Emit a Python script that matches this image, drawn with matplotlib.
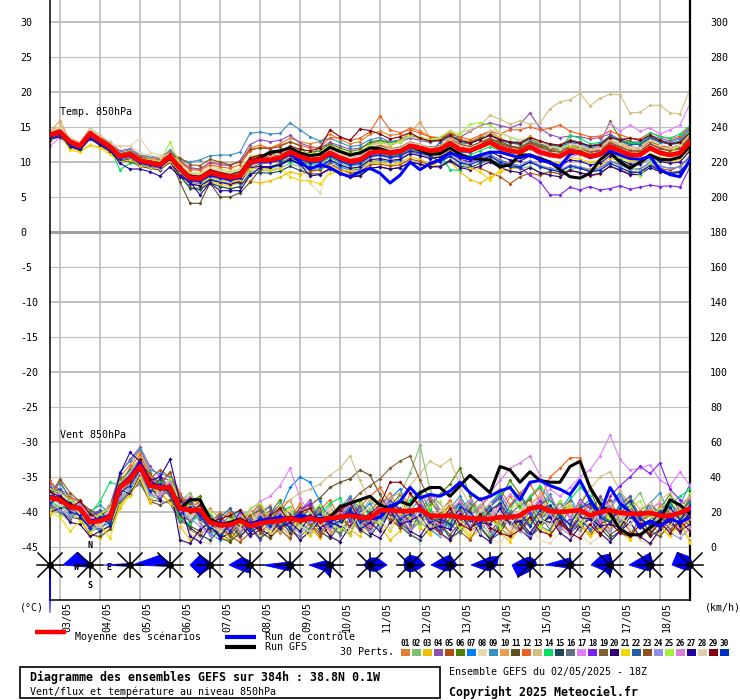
import numpy as np
import matplotlib
matplotlib.use("Agg")
import matplotlib.pyplot as plt
from matplotlib.patches import Polygon, Rectangle
from matplotlib.transforms import ScaledTranslation

plt.rcParams['font.family'] = ['DejaVu Sans Mono', 'DejaVu Sans']

# 65 steps of 6h from 02/05 18Z
steps = np.arange(65)
day_steps = [1, 5, 9, 13, 17, 21, 25, 29, 33, 37, 41, 45, 49, 53, 57, 61]
day_labels = ['03/05', '04/05', '05/05', '06/05', '07/05', '08/05', '09/05', '10/05',
              '11/05', '12/05', '13/05', '14/05', '15/05', '16/05', '17/05', '18/05']

#Temperature 850hPa (degC)
temp_mean = [13.9,14.3,12.9,12.3,14.1,13.1,12.2,10.8,11.1,10.2,9.9,9.6,10.8,
             9.1,7.7,7.6,8.5,8.1,7.8,8.0,10.0,10.3,10.3,10.6,11.4,10.8,
             10.3,10.4,11.3,10.6,10.1,10.3,11.3,11.5,11.3,11.5,12.3,12.0,11.6,
             11.8,12.7,11.8,11.6,12.2,12.8,12.0,11.6,11.4,12.2,11.4,11.0,10.8,
             11.6,11.3,10.8,11.1,12.2,11.6,11.0,11.0,12.0,11.3,11.0,11.3,12.9]
temp_ctrl = [13.9,14.4,13.0,12.3,14.2,13.1,12.1,10.7,11.0,10.0,9.7,9.4,10.6,
             9.0,7.5,7.4,8.3,7.9,7.5,7.8,10.0,10.2,10.1,10.6,11.2,10.0,
             9.0,9.6,9.2,8.4,7.9,8.6,9.1,8.4,7.0,8.1,10.0,8.9,9.8,
             10.3,11.3,10.8,10.5,11.0,11.4,11.4,11.0,10.6,11.0,10.3,9.9,9.4,
             11.1,11.5,10.6,11.0,11.6,11.0,10.5,10.4,10.8,8.9,8.2,7.9,10.3]
temp_gfs = [13.8,14.3,12.9,12.4,14.1,13.2,12.3,10.8,11.1,10.2,9.9,9.6,10.8,
            9.1,7.6,7.5,8.4,8.0,7.6,7.9,10.1,10.6,11.4,11.6,12.0,11.3,
            10.9,11.1,12.1,11.5,11.0,11.3,12.0,11.9,11.4,11.6,12.3,11.7,11.1,
            11.2,12.0,11.1,10.6,10.4,10.3,9.3,9.6,11.0,11.0,10.5,10.0,8.9,
            7.9,7.7,8.4,10.3,11.4,10.0,9.1,10.0,11.0,10.4,10.3,10.7,12.3]
temp_perts = [
    [14.2,14.8,13.2,12.5,14.5,13.4,12.6,11.2,11.5,10.6,10.4,10.1,11.3, 10.3,9.0,9.0,10.0,9.8,9.6,10.0,12.0,12.4,12.0,12.6,13.4,12.9,
     12.6,12.9,14.0,13.2,12.6,12.9,14.0,14.4,13.8,14.0,14.9,14.4,13.6, 13.5,14.4,13.3,12.9,13.6,14.4,13.4,12.8,12.6,13.7,12.9,12.4,12.5,
     13.2,12.8,12.2,12.5,13.8,13.0,12.2,12.0,13.2,12.4,12.0,12.5,14.2],
    [13.6,14.0,12.6,12.0,13.8,12.8,11.8,10.3,10.5,9.6,9.4,9.1,10.2, 8.0,6.2,6.0,7.0,6.5,6.1,6.5,8.6,8.9,8.7,9.1,9.8,9.3,
     8.8,9.0,10.0,9.5,9.0,9.3,10.6,11.0,10.7,11.0,12.0,11.5,11.2, 11.5,12.3,11.0,10.5,10.8,10.9,9.9,9.3,9.0,9.4,8.4,8.6,8.3,
     9.0,9.1,8.9,9.2,10.1,9.8,9.4,9.6,10.4,10.0,10.2,10.8,12.3],
    [13.2,13.7,12.0,11.6,12.4,12.1,11.5,10.2,10.4,9.6,9.3,9.0,10.0, 8.0,6.4,6.3,7.2,6.8,6.6,7.0,7.3,7.0,7.3,7.8,8.6,8.2,
     8.6,8.9,9.6,8.9,8.5,8.8,9.7,10.0,9.6,9.9,10.7,10.4,9.7, 9.4,10.1,8.6,7.5,7.0,7.8,8.6,8.9,9.4,10.2,9.3,8.9,8.6,
     9.5,9.3,9.0,9.4,10.6,10.1,9.5,9.8,10.8,10.2,9.9,10.4,11.8],
    [14.0,14.6,13.3,12.7,14.3,13.6,12.8,11.6,11.9,11.0,10.7,10.5,11.6, 10.1,9.2,9.0,9.9,9.6,9.5,10.2,12.5,13.2,12.9,13.1,13.8,12.7,
     12.2,12.0,12.8,12.3,11.8,12.0,12.6,13.0,12.7,12.9,13.4,13.1,12.8, 13.2,14.0,13.5,14.4,15.2,15.6,15.2,14.9,15.4,17.0,14.8,13.9,13.5,
     13.7,13.6,13.3,13.5,14.0,13.2,12.8,12.9,13.8,13.4,13.0,13.5,15.0],
    [13.8,14.1,12.7,12.1,13.9,12.9,12.0,10.6,10.8,9.9,9.6,9.3,10.5, 8.8,7.3,7.2,8.0,7.7,7.3,7.6,9.6,9.9,10.0,10.2,11.0,10.3,
     8.7,8.9,9.8,9.0,8.4,8.6,9.6,9.7,9.4,9.6,10.4,10.1,9.5, 10.1,10.8,9.9,9.4,9.1,8.5,7.9,6.9,7.9,8.4,8.1,8.6,8.3,
     8.8,8.5,8.0,8.3,9.4,8.9,8.3,8.6,9.6,9.1,8.8,9.4,10.9],
    [14.1,14.4,13.0,12.4,14.2,13.3,12.4,11.0,11.3,10.4,10.1,9.8,11.0, 9.4,8.0,7.9,8.8,8.4,8.1,8.5,10.4,10.7,10.6,10.9,11.7,11.1,
     11.4,11.6,12.6,12.0,11.5,11.8,12.9,13.1,12.8,13.0,13.9,13.4,13.0, 13.2,14.2,13.1,12.8,13.4,14.0,13.2,12.7,12.5,13.3,12.6,12.2,12.0,
     12.2,12.1,11.7,12.6,15.8,13.4,13.0,12.4,13.4,12.8,12.6,13.0,14.6],
    [13.7,14.2,12.8,12.2,14.0,13.0,12.1,10.7,11.0,10.1,9.8,9.5,10.6, 8.4,6.8,6.6,7.6,7.2,6.9,7.3,9.0,9.2,9.1,9.5,10.3,9.6,
     9.1,9.2,10.1,9.3,8.8,9.0,10.1,10.3,10.0,10.3,11.2,11.0,10.6, 11.0,12.0,11.4,11.3,12.2,13.0,12.5,12.2,12.1,13.0,12.4,12.1,11.9,
     12.8,12.6,12.0,12.4,13.6,13.1,12.5,12.5,13.6,12.9,12.6,12.9,14.5],
    [14.5,15.0,13.5,12.8,14.8,13.6,12.4,12.3,12.3,13.4,11.4,11.0,11.3, 9.9,8.6,8.4,9.4,9.0,8.8,9.1,10.8,10.8,11.1,11.3,11.8,9.6,
     7.0,5.6,9.5,10.0,9.8,10.2,11.1,11.6,11.3,11.6,12.5,12.1,11.7, 12.0,12.9,12.0,11.8,12.5,13.5,12.7,12.2,11.9,12.8,12.1,11.6,11.3,
     12.1,11.8,11.3,11.5,12.4,11.9,11.4,11.3,12.3,11.8,11.5,11.8,13.3],
    [14.0,14.5,13.1,12.6,14.6,13.5,12.7,11.4,11.7,10.9,10.8,10.5,11.7, 10.4,10.0,10.3,10.9,11.0,11.0,11.4,14.1,14.3,14.0,14.1,15.6,14.6,
     13.6,13.0,13.4,12.8,12.2,12.4,13.2,13.5,12.9,13.2,13.8,13.3,12.9, 13.0,13.6,12.7,12.6,13.2,13.8,13.1,12.8,12.9,13.5,12.8,12.4,12.2,
     12.8,12.6,12.3,12.6,13.5,13.0,12.6,12.7,13.6,13.1,12.8,13.3,14.8],
    [14.3,15.9,13.1,12.6,14.4,13.4,12.5,11.1,11.4,10.5,10.2,9.9,11.1, 9.5,8.1,7.8,8.8,8.4,8.1,8.5,10.5,10.8,10.8,11.1,11.8,11.2,
     10.8,10.9,11.9,11.2,10.7,10.9,12.0,12.4,12.2,13.1,14.2,15.7,13.5, 12.8,13.4,12.6,12.3,12.8,13.4,12.7,12.3,12.1,12.9,12.3,11.9,11.7,
     12.3,12.1,11.6,11.9,13.0,12.4,11.9,11.8,12.9,12.2,11.9,12.2,13.8],
    [13.6,14.0,12.6,11.9,13.6,12.6,11.6,10.2,10.4,9.6,9.3,9.2,10.3, 7.1,4.1,4.1,7.0,5.0,5.0,5.6,7.1,8.9,9.3,9.8,10.6,10.0,
     9.7,9.9,10.8,10.2,9.8,10.0,11.0,11.3,11.0,11.3,12.3,12.0,11.6, 11.8,12.8,12.0,11.7,12.4,13.2,13.0,12.3,12.0,12.8,12.2,11.8,11.4,
     12.2,11.9,11.4,11.6,12.6,12.1,11.6,11.5,12.6,11.9,11.6,12.0,13.5],
    [14.2,14.7,13.3,12.7,14.4,13.5,12.6,11.3,11.6,10.8,10.5,10.3,11.5, 10.0,8.9,8.8,9.6,9.3,9.1,9.6,11.6,12.1,12.0,12.4,12.9,12.4,
     12.0,12.1,13.5,13.4,13.1,13.4,14.3,16.6,14.6,14.2,14.6,14.1,13.6, 13.4,14.2,13.6,13.2,13.8,14.4,14.0,14.6,14.6,15.0,14.6,14.8,15.3,
     14.4,14.0,13.6,13.7,14.4,13.9,13.4,13.3,14.2,13.7,13.3,13.7,15.1],
    [14.4,15.1,13.4,12.8,14.9,13.8,12.8,11.3,11.6,10.6,10.4,10.0,11.2, 9.6,8.2,8.1,9.0,8.6,8.3,8.7,10.6,10.9,10.9,11.3,12.0,11.4,
     11.0,11.2,12.1,11.5,11.1,11.4,12.3,12.7,12.5,12.8,13.7,13.3,13.0, 13.3,13.0,14.2,14.6,15.2,16.7,16.1,15.4,15.9,15.4,15.6,17.6,18.6,
     18.9,19.8,18.0,19.1,19.7,19.6,17.0,17.1,18.1,18.1,17.0,16.9,20.4],
    [13.5,14.1,12.5,12.0,13.7,12.7,11.9,8.9,9.8,9.7,9.5,9.3,10.4, 8.9,7.8,7.9,8.6,8.3,8.0,8.4,10.1,10.5,10.4,10.3,10.0,10.4,
     9.6,9.8,10.6,9.9,9.4,9.6,10.8,11.0,10.7,11.0,11.8,11.6,11.2, 11.3,8.9,8.8,11.0,11.6,12.2,11.6,11.2,11.1,11.9,11.6,11.4,11.6,
     13.8,13.4,12.6,12.8,13.6,13.0,12.7,12.8,14.2,13.6,13.4,14.0,15.2],
    [13.3,13.7,12.3,11.8,13.5,12.5,11.6,10.1,10.3,9.5,9.2,8.9,10.1, 8.0,6.3,6.1,7.0,6.5,6.2,6.5,8.3,8.5,8.4,8.7,9.4,8.8,
     8.3,8.3,9.1,8.4,7.9,8.1,9.1,9.3,9.0,9.2,10.0,9.7,9.3, 9.4,10.3,9.4,9.2,9.8,10.4,9.7,9.3,9.2,10.0,9.4,9.0,8.8,
     9.5,9.3,8.8,9.1,10.1,9.6,9.0,9.0,9.9,9.4,9.1,9.3,10.7],
    [13.5,13.9,12.4,11.8,13.4,12.4,11.7,10.4,10.6,9.8,9.5,9.2,10.2, 8.6,7.1,6.9,7.9,7.5,7.2,6.9,9.2,9.7,9.9,10.1,10.9,10.3,
     9.8,10.1,11.0,10.2,9.8,10.0,11.0,11.2,10.9,11.1,11.8,11.4,11.0, 10.6,11.3,10.4,10.0,10.6,11.1,10.3,9.8,9.5,10.2,9.5,9.1,8.8,
     9.5,9.2,8.6,8.9,9.8,9.2,8.6,8.5,9.5,8.8,8.5,8.7,10.2],
    [12.3,13.5,12.3,11.9,13.6,12.8,11.9,10.6,10.9,10.0,9.7,9.4,10.6, 9.0,7.7,7.4,8.3,7.9,7.7,8.1,10.1,10.4,10.4,10.8,11.6,11.0,
     10.6,10.7,11.6,10.9,10.5,10.8,11.8,12.0,11.7,11.9,12.8,12.4,12.0, 12.2,13.0,12.2,11.9,12.5,13.0,12.4,11.8,11.4,12.0,10.8,9.8,8.9,
     10.6,11.2,11.6,12.6,15.6,14.4,15.3,14.4,14.9,14.0,14.6,15.3,18.3],
    [13.6,14.1,12.7,12.1,13.9,12.9,12.0,10.5,10.8,9.9,9.6,9.3,10.5, 8.8,7.4,7.3,8.1,7.8,7.4,7.8,9.8,10.0,10.0,10.3,11.1,10.5,
     10.0,10.1,11.0,10.2,9.7,9.9,10.8,11.0,10.6,10.8,11.5,11.1,10.6, 10.7,11.4,10.4,10.0,10.4,10.8,10.1,9.6,9.3,8.1,7.2,5.3,5.3,
     6.4,6.0,6.5,6.0,6.2,6.6,6.1,6.4,6.7,6.5,6.6,6.4,9.3],
    [14.1,14.6,13.0,12.5,14.2,13.4,12.5,11.2,11.5,10.7,10.3,10.0,11.2, 9.4,8.2,8.1,8.9,8.5,8.3,8.7,10.6,10.9,10.8,11.1,11.9,11.2,
     10.7,12.2,12.4,11.6,11.0,11.3,12.1,12.3,11.9,12.1,12.9,12.5,12.1, 12.3,13.2,12.5,12.2,12.8,13.4,12.7,12.2,12.0,12.9,12.4,12.0,11.8,
     12.5,12.3,11.8,12.1,13.2,12.6,12.1,12.0,13.0,12.4,12.1,12.4,14.0],
    [13.2,13.6,12.2,11.7,13.3,12.4,11.5,10.0,10.2,9.4,9.1,8.9,10.0, 8.4,6.9,6.6,7.4,7.1,6.8,7.2,9.1,9.4,9.3,9.6,10.4,9.7,
     8.0,8.2,9.0,8.3,7.8,8.0,9.1,9.3,9.0,9.2,10.0,9.7,9.3, 9.3,10.1,9.2,8.9,9.4,10.0,9.2,8.7,8.5,9.2,8.5,8.1,7.9,
     8.8,8.5,8.1,8.4,9.4,8.8,8.2,8.2,9.2,8.6,8.3,8.6,10.2],
    [13.3,13.9,11.7,11.4,12.4,12.0,11.1,10.0,10.3,9.5,9.2,9.0,10.1, 8.6,7.3,7.0,7.8,7.5,7.1,7.4,9.0,9.2,8.9,9.2,7.9,7.4,
     7.3,6.9,8.4,8.6,8.9,9.2,10.1,10.4,10.2,10.4,11.3,11.0,10.7, 10.9,11.7,10.5,9.2,8.6,7.4,8.9,9.8,10.3,11.0,10.5,10.1,9.8,
     10.6,10.4,10.0,10.3,11.3,10.7,10.2,10.1,11.2,10.6,10.3,10.6,12.2],
    [13.8,14.2,12.8,12.3,14.0,13.0,12.2,10.9,11.2,10.3,10.0,9.7,10.8, 9.1,7.7,7.6,8.5,8.1,7.9,8.2,10.2,10.5,10.5,10.7,11.5,10.9,
     10.3,10.3,11.2,10.4,10.0,10.2,11.1,11.3,11.0,11.2,12.0,11.7,11.3, 12.8,13.8,13.0,12.7,13.3,13.9,13.1,12.7,12.6,13.4,12.8,12.4,12.3,
     13.1,12.8,12.3,12.6,13.7,13.1,12.5,12.5,13.5,12.9,12.5,12.7,14.3],
    [14.0,14.5,13.2,12.6,14.4,13.3,12.3,11.0,11.3,10.4,10.1,9.8,11.0, 10.6,9.6,9.5,10.4,10.0,9.6,10.0,11.8,12.0,11.9,12.2,12.9,12.3,
     10.6,10.7,11.6,10.9,10.4,10.7,11.6,11.9,11.6,11.8,12.6,12.3,11.9, 12.1,13.0,12.2,11.9,12.6,13.2,12.5,12.1,11.9,12.7,12.0,11.6,11.4,
     12.1,11.8,11.4,11.7,12.8,12.2,11.6,11.6,12.6,12.0,11.6,11.9,13.5],
    [13.5,13.8,12.5,11.9,13.6,12.7,11.8,10.4,10.7,9.8,9.5,9.2,10.4, 8.7,7.2,7.1,8.0,7.6,7.3,7.7,9.7,10.0,9.9,10.2,11.0,10.3,
     9.8,9.9,10.8,10.0,9.5,9.7,10.7,10.9,10.5,10.8,11.6,11.2,10.8, 10.2,11.0,10.1,9.8,10.4,11.0,10.1,9.6,9.4,10.2,9.4,9.0,8.8,
     9.6,9.3,8.9,9.1,10.2,9.5,9.0,8.9,10.0,9.4,9.1,9.3,10.9],
    [14.1,14.6,13.1,12.5,14.2,13.3,12.4,11.0,11.3,10.5,10.3,10.1,12.8, 9.7,8.4,8.3,9.1,8.8,8.6,8.9,10.8,11.1,11.1,11.4,12.2,11.6,
     11.2,11.3,12.3,11.7,11.2,11.5,12.5,12.8,12.6,12.9,13.9,13.6,13.2, 13.5,14.4,14.0,15.4,15.6,15.3,14.2,13.5,13.0,13.6,12.8,12.3,12.0,
     12.3,11.8,11.2,11.0,11.6,10.6,9.8,8.0,9.8,10.3,11.2,12.6,14.5],
    [13.9,14.4,12.9,12.4,14.2,13.2,12.3,10.9,11.2,10.3,10.0,9.7,10.9, 9.2,7.8,7.7,8.6,8.2,7.9,8.3,10.2,10.6,10.6,10.9,11.7,11.1,
     10.6,10.7,11.6,10.9,10.4,10.6,11.6,11.8,11.5,11.7,12.4,12.1,11.7, 11.9,12.8,12.0,11.7,12.3,13.0,12.3,11.8,11.6,12.5,11.8,11.3,11.1,
     11.9,11.6,11.1,11.4,12.5,11.9,11.3,11.2,12.3,11.6,11.2,11.5,13.1],
    [13.4,13.8,12.4,11.8,13.5,12.6,11.8,9.8,9.0,9.0,8.6,8.0,9.3, 7.9,7.2,5.3,7.0,5.9,5.9,5.9,8.1,9.2,9.3,9.6,10.3,9.7,
     9.3,9.4,10.3,9.6,9.1,9.3,10.3,10.5,10.2,10.4,11.2,10.9,10.5, 10.7,11.5,10.6,10.3,10.9,11.5,10.8,10.3,10.1,10.9,10.2,9.8,9.5,
     10.3,10.1,9.6,9.8,10.9,10.3,9.7,9.7,10.8,10.1,9.8,10.0,11.6],
    [14.3,14.9,13.3,12.7,14.7,13.5,12.5,12.3,12.3,11.3,11.0,10.7,11.2, 9.6,8.3,8.2,9.1,8.7,8.4,8.8,10.7,11.0,10.9,11.2,11.9,11.3,
     10.8,10.9,11.8,11.1,10.6,10.8,11.8,12.1,11.8,12.0,12.8,12.5,12.0, 12.2,13.1,12.3,12.0,12.6,14.6,14.3,13.6,13.2,13.4,12.8,12.2,11.9,
     12.6,12.3,11.8,12.0,13.2,12.6,12.1,12.0,13.1,12.5,12.1,12.4,14.0],
    [14.0,14.4,13.0,12.4,14.2,13.2,12.3,11.0,11.3,10.4,10.1,9.9,11.1, 9.4,8.1,8.0,8.9,8.5,8.2,8.6,10.6,11.0,11.1,11.5,12.3,11.8,
     11.6,12.0,14.6,13.6,13.1,14.7,14.5,14.0,13.3,13.6,14.2,13.4,13.0, 13.1,13.8,13.0,12.7,13.2,13.8,13.2,12.9,12.7,13.5,13.0,12.6,12.4,
     13.0,12.7,12.3,12.4,13.5,13.2,13.4,13.1,13.8,13.1,12.6,12.8,14.2],
    [13.6,14.0,12.6,12.0,13.8,12.8,11.9,10.5,10.8,9.9,9.6,9.3,10.4, 8.8,7.3,7.2,8.0,7.7,7.4,7.7,9.7,10.0,10.0,10.2,11.0,10.3,
     9.9,10.0,10.9,10.1,9.6,9.8,10.8,11.0,10.7,10.9,11.6,11.3,10.9, 10.0,10.8,9.9,9.6,10.2,10.8,10.0,9.5,9.3,10.0,9.3,8.9,8.6,
     9.4,9.1,8.6,8.8,9.8,9.2,8.6,8.5,9.5,8.8,8.4,8.5,10.2],
]

#Wind 850hPa (km/h)
wind_mean = [28,27,23,22,14,15,17,34,39,46,35,34,34,
             22,21,21,14,12.6,12.6,15,12,13.5,14.5,15,16.5,15,
             16.5,15,16.5,17,18,17,16.5,21,21,20.5,20.5,21.5,18,
             17.7,18,17,16.5,16,16,17,17,18,22,23,20.5,20,
             20.5,21,18,20,21,19.5,19,19,19.5,18,17.7,19.5,22]
wind_ctrl = [29,27,23,22,15,16,18,35,40,48,36,35,34,
             22,21,20,14,12,13,15,13,15,16,17,16,18,
             17,16,15,17,19,18,16,17,23,26,34,28,30,
             29,32,37,31,27,29,32,34,27,37,38,35,33,
             30,38,27,19,34,25,20,11,15,12,16,14,17]
wind_gfs = [28,28,24,22,15,15,17,34,40,47,36,34,34,
            22,27,27,16,13,14,16,13,15,16,16,17,16,
            17,16,17,23,25,27,29,24,22,26,24,31,34,
            34,29,35,41,36,31,46,44,37,43,38,37,37,
            46,49,34,25,19,10,7,7,11,15,27,24,19]
wind_perts = [
    [34,30,24,18,10,14,22,40,47,55,42,30,26, 18,10,6,13,20,9,5,14,22,12,8,16,25, 19,11,7,14,27,18,10,23,31,20,12,25,16,
     8,15,27,19,11,6,17,29,22,13,30,21,9, 14,26,18,10,21,32,24,13,7,18,27,15,22],
    [22,19,15,26,16,8,13,27,33,41,28,36,30, 26,31,22,9,14,21,11,17,26,15,9,18,12, 7,16,24,13,8,19,27,21,14,30,42,58,33,
     21,12,18,26,15,7,13,22,30,19,11,17,25, 16,9,20,28,17,11,24,31,18,10,16,24,13],
    [18,27,20,16,8,5,11,22,30,38,25,28,33, 12,4,9,15,6,3,10,16,8,5,14,9,19, 11,5,13,21,10,6,17,12,4,9,18,11,7,
     15,24,12,5,10,19,8,3,11,20,13,6,15, 24,14,7,12,20,9,4,13,22,11,6,14,3],
    [36,33,29,25,21,19,24,42,50,57,46,40,38, 30,24,14,7,12,18,6,11,4,16,22,13,20, 27,15,9,18,28,22,13,17,26,14,8,20,29,
     21,10,16,25,19,9,15,23,31,20,12,18,26, 17,8,19,29,21,12,7,16,25,18,10,15,23],
    [26,38,27,20,12,16,18,33,37,44,39,44,40, 28,22,26,19,10,6,3,8,15,21,11,14,23, 13,6,12,24,16,9,20,27,18,11,23,30,17,
     10,20,9,4,14,24,16,8,19,28,34,21,12, 22,13,6,15,26,17,9,5,12,21,14,8,18],
    [32,29,21,27,18,20,16,38,44,50,33,31,35, 17,26,29,13,8,4,12,21,13,19,27,14,22, 16,24,12,8,17,26,19,11,23,30,20,13,24,
     30,36,45,29,18,13,27,38,30,21,15,28,20, 12,24,33,19,10,18,27,16,9,22,30,20,28],
    [30,24,18,23,9,11,14,29,41,48,30,27,37, 24,14,20,8,4,15,19,9,17,11,21,34,40, 37,26,15,11,7,19,25,16,28,33,22,14,10,
     6,16,25,18,11,5,14,23,30,19,12,9,21, 29,17,10,16,24,31,20,12,7,15,26,18,27],
    [21,26,27,25,14,18,25,28,35,40,28,37,29, 13,8,3,2,9,14,20,12,6,15,10,4,13, 20,10,5,11,22,14,7,18,24,15,8,4,12,
     7,3,9,19,13,5,2,10,18,11,4,2,8, 15,8,2,6,13,19,10,4,1,8,16,9,5],
    [33,36,29,21,20,24,19,43,49,56,44,42,40, 29,20,24,19,12,9,21,16,23,14,25,19,13, 24,17,11,22,29,18,13,25,28,17,21,27,15,
     11,22,29,20,14,25,31,21,15,12,24,30,19, 13,26,19,11,23,29,20,14,25,31,18,24,36],
    [35,27,30,20,13,21,17,40,36,52,41,33,39, 27,29,18,22,16,8,19,13,20,24,12,7,17, 23,15,9,20,26,13,8,19,28,31,24,16,11,
     20,27,17,10,18,25,14,8,16,24,29,18,12, 9,19,25,14,10,21,28,22,13,8,17,24,29],
    [24,21,17,16,7,6,10,25,31,38,26,24,27, 15,12,9,16,5,3,8,14,9,5,11,17,21, 24,28,34,37,39,44,41,30,20,14,9,15,22,
     13,7,14,21,11,5,10,18,13,7,15,22,16, 9,14,21,13,7,11,19,15,9,6,13,20,11],
    [38,31,28,27,17,12,21,36,45,53,40,37,42, 31,18,23,10,15,20,8,19,24,13,21,27,14, 10,21,27,16,12,23,29,34,25,18,30,22,15,
     20,26,14,10,23,29,33,24,31,36,26,40,45, 51,51,35,24,17,10,22,16,12,24,19,11,16],
    [25,23,19,24,15,13,20,31,35,42,37,29,32, 20,24,15,11,18,7,16,20,11,15,24,27,31, 33,36,41,45,52,38,26,21,15,27,35,42,49,
     46,50,35,23,17,14,26,19,12,24,30,22,16, 13,26,33,40,43,32,22,15,19,27,31,22,12],
    [27,22,24,17,19,26,37,35,38,45,31,38,31, 16,13,19,10,6,15,21,10,18,9,20,23,14, 9,19,25,28,16,11,22,14,24,16,27,32,21,
     15,12,22,27,16,24,30,35,22,29,35,27,18, 27,34,29,19,14,25,18,12,23,15,24,29,33],
    [31,25,20,24,11,17,15,32,42,47,33,39,32, 19,11,7,4,10,13,6,12,5,9,16,8,14, 17,9,5,13,19,10,6,14,20,12,7,4,11,
     14,5,9,16,12,4,8,17,13,6,11,19,15, 8,13,20,11,5,9,17,12,6,10,18,13,19],
    [23,20,16,21,14,9,18,26,32,36,27,26,25, 14,19,23,14,7,12,17,8,15,11,19,10,6, 11,20,13,7,15,22,12,18,23,14,9,19,26,
     20,13,8,17,24,19,11,6,14,22,18,10,20, 24,17,9,14,21,12,6,17,25,19,11,15,23],
    [29,27,25,18,16,13,21,30,39,44,36,30,35, 24,17,22,16,11,8,17,21,26,29,35,45,28, 19,14,22,17,26,15,11,23,27,18,13,24,30,
     25,16,20,27,22,18,24,30,26,21,28,33,29, 34,40,44,52,64,50,44,45,47,38,35,43,35],
    [34,30,22,20,17,20,15,37,43,50,35,41,33, 25,28,17,12,18,10,20,15,11,19,24,13,21, 25,13,18,22,15,24,19,12,26,21,15,24,14,
     9,21,26,16,12,24,29,18,14,20,26,17,11, 16,27,22,14,29,35,40,46,42,48,33,27,22],
    [29,39,31,26,21,17,23,40,39,47,42,35,43, 28,25,20,14,19,17,11,18,21,13,23,19,15, 23,16,12,22,25,31,35,39,45,49,52,38,27,
     18,24,14,22,28,17,12,19,24,27,16,13,22, 26,16,12,23,27,15,13,21,25,15,11,20,26],
    [20,22,14,13,6,9,12,33,30,41,35,27,36, 4,2,10,14,5,8,13,6,10,7,15,11,4, 9,15,6,3,12,17,8,5,14,18,9,6,15,
     8,4,13,17,7,3,12,18,10,5,14,17,8, 4,12,16,8,3,9,14,6,2,10,15,9,13],
    [20,17,9,15,8,13,5,24,29,40,26,32,25, 21,23,27,16,9,6,17,20,13,8,18,22,10, 6,13,20,12,7,18,23,14,9,19,24,15,8,
     18,23,13,7,16,21,11,5,15,22,12,8,19, 24,13,6,10,19,12,5,13,21,12,6,16,2],
    [31,33,26,19,18,21,13,36,44,46,38,32,37, 23,27,16,11,17,22,14,10,19,23,12,17,21, 14,23,18,12,25,20,11,17,26,22,13,23,16,
     12,20,25,15,18,23,28,19,14,17,24,28,18, 13,22,27,18,15,24,29,17,12,21,26,16,25],
    [26,29,20,23,12,18,14,30,37,43,31,34,29, 18,15,21,9,13,6,15,18,8,14,10,5,16, 13,8,14,19,11,17,9,20,16,11,18,22,12,
     8,17,21,12,16,21,24,14,9,15,19,23,13, 10,19,24,13,16,20,23,15,18,12,22,16,20],
    [25,21,17,24,10,12,19,28,34,42,30,29,34, 21,16,12,7,14,15,9,13,16,10,17,12,8, 14,18,11,15,22,13,9,12,20,17,10,14,18,
     13,10,19,12,8,17,22,13,9,7,16,19,11, 7,17,21,12,9,16,20,11,14,16,8,5,11],
    [33,31,27,19,13,19,22,37,43,51,34,31,39, 26,19,25,20,12,16,13,22,25,16,24,14,11, 20,24,14,10,21,25,16,13,22,26,16,12,23,
     26,15,11,20,24,15,12,22,25,14,11,21,26, 22,13,20,25,16,12,23,26,17,22,27,18,31],
    [27,30,21,25,17,14,20,33,42,49,38,31,37, 20,23,25,12,15,10,18,10,19,12,20,13,21, 22,14,11,21,24,15,12,22,25,17,14,23,15,
     13,21,26,17,23,31,38,45,48,52,41,28,21, 17,26,19,15,24,28,18,15,22,25,16,24,28],
    [31,29,25,17,11,16,19,42,54,49,38,40,50, 26,6,3,12,6,13,16,8,12,15,11,14,9, 18,11,14,12,21,10,14,9,21,13,15,18,10,
     12,10,19,11,14,13,22,13,15,8,16,14,17, 9,17,16,12,13,11,20,13,15,11,19,12,20],
    [30,24,23,19,16,12,22,31,40,43,33,35,30, 24,17,22,12,9,14,11,20,13,9,17,21,12, 9,17,22,13,10,19,23,15,11,20,24,16,12,
     21,25,14,10,21,25,17,12,21,25,16,13,22, 25,16,12,21,25,17,13,22,25,15,12,20,24],
    [32,26,22,26,19,15,17,34,38,50,39,33,32, 27,20,24,14,16,18,21,13,10,18,22,14,20, 22,14,18,21,25,16,19,24,37,37,31,23,17,
     14,22,13,10,19,11,8,6,10,17,9,7,14, 8,5,13,7,14,8,6,13,7,14,8,15,9],
    [25,28,20,18,11,17,13,31,35,44,32,36,30, 19,23,18,11,15,9,16,10,17,12,18,11,19, 16,19,12,15,22,14,17,20,24,16,19,22,14,
     16,13,23,20,12,21,25,17,19,12,21,24,17, 13,22,25,17,14,22,26,16,13,20,23,15,24],
]

pert_colors = ['#e08030', '#80c070', '#f0c000', '#9050b0', '#b05010', '#508000', '#0080ff',
               '#e8d8b0', '#3890c0', '#e8a050', '#605020', '#f06020', '#d0c080', '#00e060',
               '#204858', '#607080', '#e080f8', '#8020f0', '#806030', '#300070', '#f0d800',
               '#2060a0', '#905020', '#9090e8', '#a0f040', '#d880d8', '#2000a0', '#e0d0b0',
               '#800010', '#0030c0']

# daily wind roses: radii (px) toward E, NE, N, NW, W, SW, S, SE
rose_steps = [0, 4, 8, 12, 16, 20, 24, 28, 32, 36, 40, 44, 48, 52, 56, 60, 64]
rose_radii = [
    [1, 1, 1, 1, 1, 1, 48, 1],
    [2, 1, 2, 18, 27, 3, 1, 1],
    [2, 1, 2, 2, 26, 2, 1, 1],
    [2, 2, 2, 14, 38, 2, 1, 1],
    [4, 3, 3, 14, 20, 14, 3, 3],
    [3, 2, 4, 11, 21, 9, 8, 2],
    [5, 3, 4, 4, 27, 7, 6, 4],
    [5, 3, 3, 6, 21, 8, 12, 3],
    [17, 10, 7, 5, 6, 5, 6, 9],
    [15, 11, 10, 8, 6, 7, 7, 8],
    [7, 6, 10, 10, 19, 8, 6, 5],
    [7, 12, 8, 8, 19, 7, 6, 5],
    [7, 7, 8, 9, 18, 17, 6, 4],
    [5, 4, 7, 8, 25, 4, 5, 3],
    [4, 4, 11, 13, 19, 8, 11, 4],
    [5, 4, 12, 11, 21, 7, 6, 4],
    [2, 3, 8, 18, 18, 7, 5, 2],
]

temp_ticks = list(range(-45, 31, 5))
wind_ticks = list(range(0, 301, 20))

fig = plt.figure(figsize=(7.4, 7.0), dpi=100)
ax = fig.add_axes([50/740, 100/700, 640/740, 600/700])
ax.set_xlim(0, 64)
ax.set_ylim(-52.571, 33.143)
wx = ax.twinx()
wx.set_ylim(-30.286, 312.571)

gcol = '#c0c0c0'
for d in day_steps:
    ax.axvline(d, color=gcol, lw=1.3, zorder=0.5)
for v in temp_ticks:
    if v == 0:
        ax.axhline(v, color='#a0a0a0', lw=2.2, zorder=0.6)
    elif v % 10 == 0:
        ax.axhline(v, color=gcol, lw=1.4, zorder=0.5)
    else:
        ax.axhline(v, color=gcol, lw=0.8, zorder=0.5)

mk = dict(marker='D', ms=2.0, mew=0, lw=0.8)
for vals, c in zip(temp_perts, pert_colors):
    ax.plot(steps, vals, color=c, zorder=2, **mk)
for vals, c in zip(wind_perts, pert_colors):
    wx.plot(steps, vals, color=c, zorder=2, **mk)
ax.plot(steps, temp_gfs, color='black', lw=2.2, zorder=3)
wx.plot(steps, wind_gfs, color='black', lw=2.2, zorder=3)
ax.plot(steps, temp_ctrl, color='#0000ff', lw=2.2, zorder=4)
wx.plot(steps, wind_ctrl, color='#0000ff', lw=2.2, zorder=4)
ax.plot(steps, temp_mean, color='#ff0000', lw=3.4, zorder=5)
wx.plot(steps, wind_mean, color='#ff0000', lw=3.4, zorder=5)

# axes frame and ticks
ax.spines['top'].set_visible(False)
for s in wx.spines.values():
    s.set_visible(False)
ax.spines['left'].set_linewidth(1.1)
ax.spines['bottom'].set_linewidth(1.1)
ax.spines['right'].set_linewidth(1.6)

ax.set_yticks(temp_ticks)
ax.set_yticklabels([str(v) for v in temp_ticks])
ax.tick_params(axis='y', length=0, pad=21.6, labelsize=7.2)
for lab in ax.get_yticklabels():
    lab.set_ha('left')
wx.set_yticks(wind_ticks)
wx.set_yticklabels([str(v) for v in wind_ticks])
wx.tick_params(axis='y', length=0, pad=14.4, labelsize=7.2)

ax.set_xticks(day_steps)
ax.set_xticklabels(day_labels, rotation=90)
ax.tick_params(axis='x', length=0, pad=1.5, labelsize=7.2)
for lab in ax.get_xticklabels():
    lab.set_transform(lab.get_transform() + ScaledTranslation(7/100, 0, fig.dpi_scale_trans))

# overlay in pixel units for roses, legend and captions
lay = fig.add_axes([0, 0, 1, 1], zorder=10)
lay.set_xlim(0, 740)
lay.set_ylim(700, 0)
lay.axis('off')
lay.patch.set_visible(False)

to_lay = lay.transData.inverted()
rose_y = 565
ang = np.deg2rad(np.arange(0, 360, 45))
for t, rad in zip(rose_steps, rose_radii):
    cx = to_lay.transform(ax.transData.transform((t, 0)))[0]
    r = np.array(rad, dtype=float)
    pts = np.column_stack([cx + r*np.cos(ang), rose_y - r*np.sin(ang)])
    lay.add_patch(Polygon(pts, closed=True, fc='#0000ff', ec='#0000ff', lw=0.6, zorder=1))
    for dx, dy in [(13, 0), (0, 12), (12, 12), (12, -12)]:
        lay.plot([cx-dx, cx+dx], [rose_y-dy, rose_y+dy], color='black', lw=1.1, zorder=2)
    lay.plot(cx, rose_y, 'o', color='black', ms=4, zorder=3)
    if t == rose_steps[1]:
        for s, ox, oy in [('N', 0, -20), ('S', 0, 21), ('W', -14, 2), ('E', 19, 2)]:
            lay.text(cx+ox, rose_y+oy, s, fontsize=6, fontweight='bold', ha='center', va='center', zorder=4)

lay.text(60, 112, 'Temp. 850hPa', fontsize=7.2, va='center')
lay.text(60, 435, 'Vent 850hPa', fontsize=7.2, va='center')
lay.text(20, 607, '(°C)', fontsize=7.2, va='center')
lay.text(705, 607, '(km/h)', fontsize=7.2, va='center')

lay.plot([35, 66], [632, 632], color='#ff0000', lw=3.2, solid_capstyle='butt')
lay.text(75, 637, 'Moyenne des scénarios', fontsize=7.2, va='center')
lay.plot([225, 256], [637, 637], color='#0000ff', lw=3.0, solid_capstyle='butt')
lay.text(265, 637, 'Run de contrôle', fontsize=7.2, va='center')
lay.plot([225, 256], [647, 647], color='black', lw=3.0, solid_capstyle='butt')
lay.text(265, 647, 'Run GFS', fontsize=7.2, va='center')
lay.text(340, 652, '30 Perts.', fontsize=7.2, va='center')
for i, c in enumerate(pert_colors):
    x0 = 401 + 11*i
    lay.add_patch(Rectangle((x0, 649), 9, 7, fc=c, ec='none'))
    lay.text(x0+4.5, 643.5, '%02d' % (i+1), fontsize=5.6, fontweight='bold', ha='center', va='center')

lay.add_patch(Rectangle((20, 667), 420, 31, fc='none', ec='black', lw=1.2))
lay.text(30, 677, 'Diagramme des ensembles GEFS sur 384h : 38.8N 0.1W', fontsize=8.4,
         fontweight='bold', va='center')
lay.text(30, 692, 'Vent/flux et température au niveau 850hPa', fontsize=7.2, va='center')
lay.text(449, 672, 'Ensemble GEFS du 02/05/2025 - 18Z', fontsize=7.2, va='center')
lay.text(449, 692, 'Copyright 2025 Meteociel.fr', fontsize=8.4, fontweight='bold', va='center')

fig.savefig('out.png', dpi=100)
